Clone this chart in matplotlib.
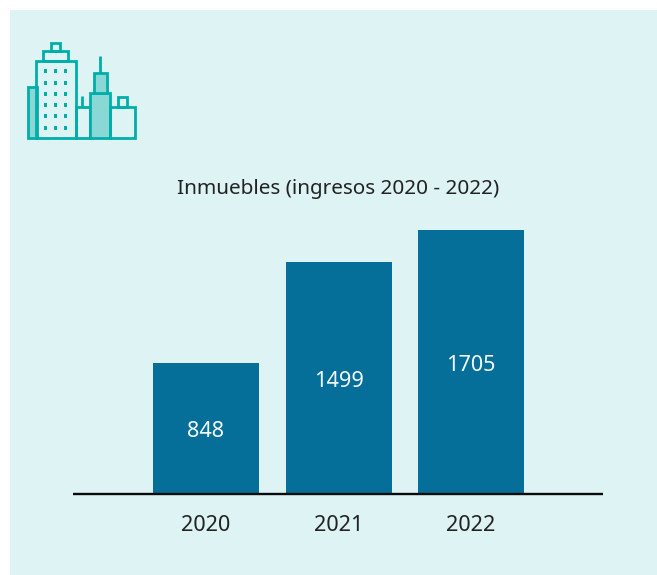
import matplotlib
matplotlib.use('Agg')
import matplotlib.pyplot as plt
from matplotlib.patches import Rectangle

W, H = 657, 575
years = ['2020', '2021', '2022']
ingresos = [848, 1499, 1705]
titulo = 'Inmuebles (ingresos 2020 - 2022)'

PANEL = '#DEF3F4'
BAR = '#056E99'
ICON = '#00AEA9'
ICON_FILL = '#8AD8D6'

plt.rcParams['font.family'] = ['Noto Sans', 'DejaVu Sans']

fig = plt.figure(figsize=(W / 100, H / 100), dpi=100, facecolor='white')

# fondo y icono en pixeles
bg = fig.add_axes([0, 0, 1, 1])
bg.set_xlim(0, W)
bg.set_ylim(H, 0)
bg.axis('off')
bg.add_patch(Rectangle((10, 10), W - 10, H - 10, fc=PANEL, ec='none'))


def caja(x0, y0, x1, y1, fill='none'):
    bg.add_patch(Rectangle((x0, y0), x1 - x0, y1 - y0, fc=fill, ec=ICON, lw=2.0, joinstyle='miter'))


caja(28, 87, 36.5, 138, ICON_FILL)
caja(36, 61, 75.7, 138)
caja(43.3, 51.3, 68.3, 61)
caja(51, 43.3, 60.3, 51.3)
caja(75.7, 107.3, 90, 138)
caja(90, 92.7, 110.3, 138, ICON_FILL)
caja(93.7, 72.7, 107, 92.7, ICON_FILL)
caja(110.3, 106.7, 134.7, 138)
caja(118, 97.3, 127, 106.7)
bg.plot([82.3, 82.3], [96, 107], color=ICON, lw=2.0, solid_capstyle='butt')
bg.plot([100, 100], [55.7, 72.7], color=ICON, lw=2.0, solid_capstyle='butt')
# ventanas
for wx in [45.7, 55.7, 65.7]:
    for wy in [71.3, 82.7, 94, 105, 116.3, 127.7]:
        bg.add_patch(Rectangle((wx - 1.5, wy - 2), 3, 4, fc=ICON, ec='none'))

# grafico
ax = fig.add_axes([73 / W, 1 - 494 / H, (603 - 73) / W, (494 - 200) / H])
ax.patch.set_alpha(0)
xs = range(len(years))
ax.bar(xs, ingresos, width=0.8, color=BAR)
ax.set_xlim(-1.004, 2.996)
ax.set_ylim(0, 294 * 6.46)
for s in ['top', 'left', 'right']:
    ax.spines[s].set_visible(False)
ax.spines['bottom'].set_linewidth(1.7)
ax.spines['bottom'].set_color('#0a0a0a')
ax.spines['bottom'].set_capstyle('butt')
ax.set_yticks([])
ax.set_xticks(list(xs), years, fontsize=15.6, color='#222222')
ax.tick_params(axis='x', length=0, pad=15)
for x, v in zip(xs, ingresos):
    ax.text(x, v / 2 - 20, str(v), ha='center', va='center', color='#F4FAFB', fontsize=15.6)

fig.text(338.5 / W, 1 - 189 / H, titulo, ha='center', va='center', fontsize=14.9, color='#222222')

fig.savefig('out.png', dpi=100, facecolor='white')
